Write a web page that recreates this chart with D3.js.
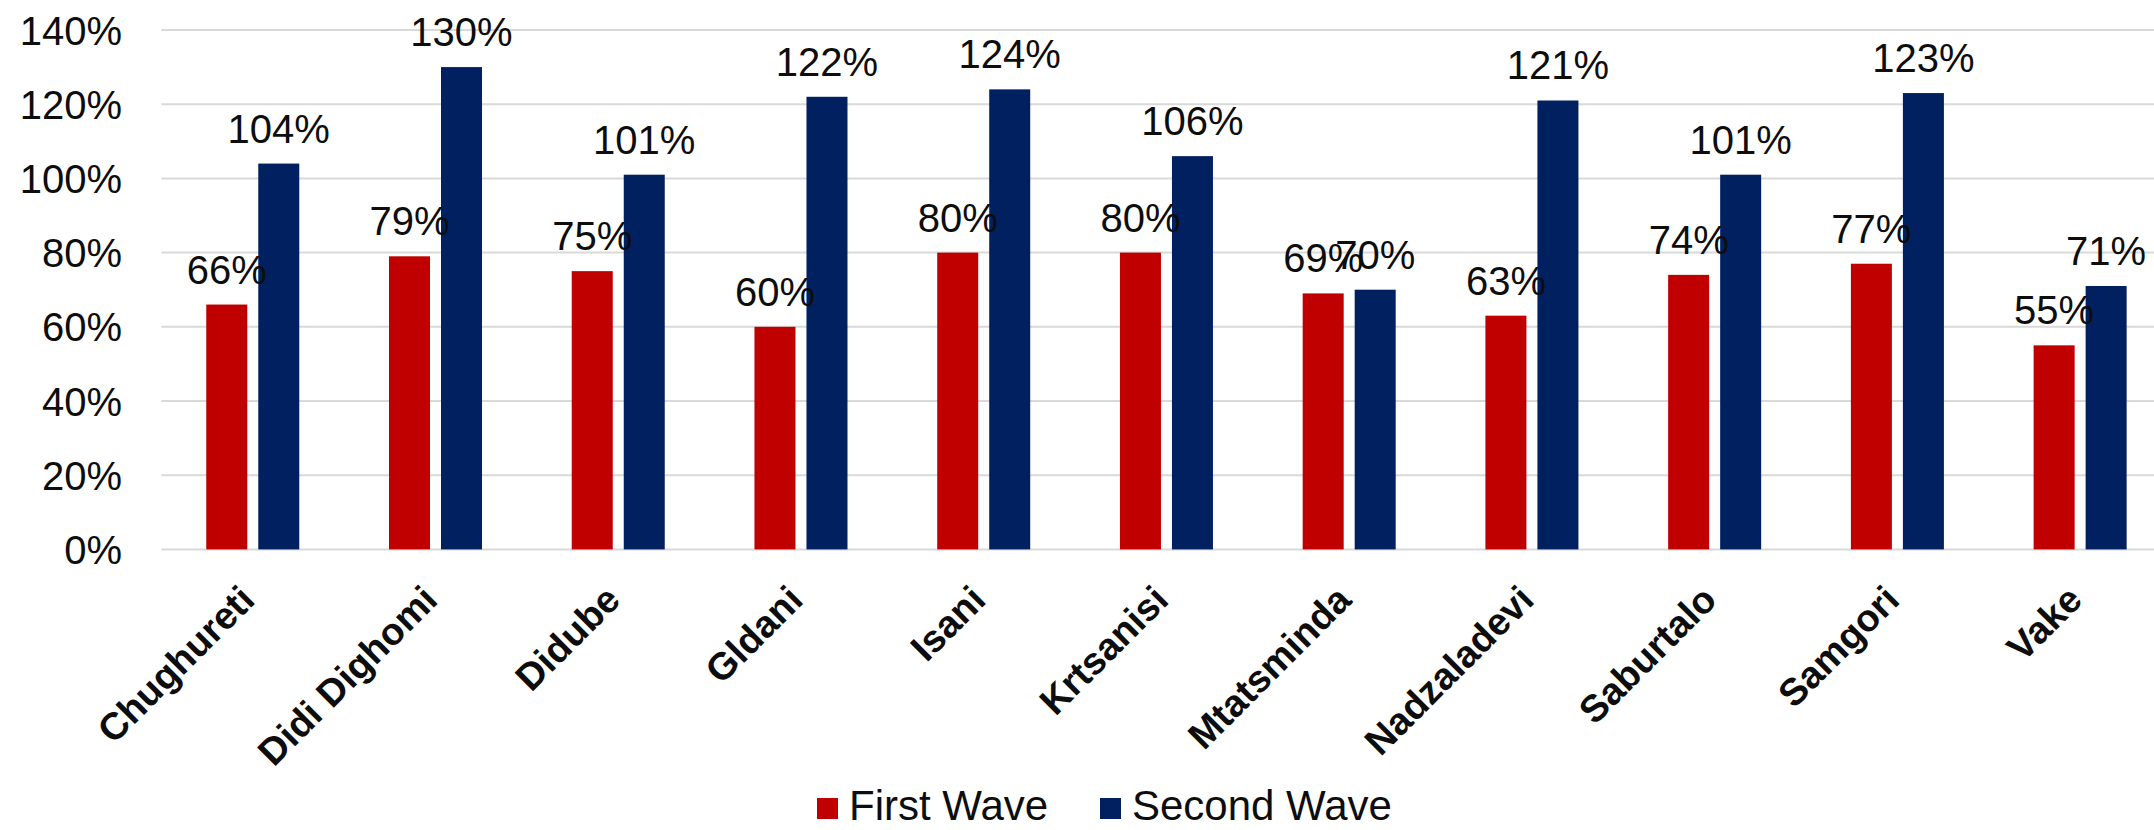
<!DOCTYPE html>
<html>
<head>
<meta charset="utf-8">
<script src="https://cdn.jsdelivr.net/npm/d3@7"></script>
<style>
  html, body { margin: 0; padding: 0; background: #fff; }
  svg { display: block; font-family: "Liberation Sans", Arial, sans-serif; }
</style>
</head>
<body>
<svg id="chart" width="2154" height="830"></svg>
<script>
// Districts of Tbilisi
const districts = ["Chughureti", "Didi Dighomi", "Didube", "Gldani", "Isani", "Krtsanisi",
                   "Mtatsminda", "Nadzaladevi", "Saburtalo", "Samgori", "Vake"];
const seriesNames = ["First Wave", "Second Wave"];
const firstWave  = [0.66, 0.79, 0.75, 0.60, 0.80, 0.80, 0.69, 0.63, 0.74, 0.77, 0.55];
const secondWave = [1.04, 1.30, 1.01, 1.22, 1.24, 1.06, 0.70, 1.21, 1.01, 1.23, 0.71];
const yTicks = [0, 0.2, 0.4, 0.6, 0.8, 1.0, 1.2, 1.4];

const colors = { "First Wave": "#C00000", "Second Wave": "#002060" };
const textColor = "#0d0d0d";

const svg = d3.select("#chart");
const plot = { left: 161.4, right: 2171.5, top: 30, bottom: 549.4 };

const x = d3.scaleBand()
  .domain(districts)
  .range([plot.left, plot.right])
  .paddingInner(0.491)
  .paddingOuter(0.2455);

const xInner = d3.scaleBand()
  .domain(seriesNames)
  .range([0, x.bandwidth()])
  .paddingInner(0.2115)
  .paddingOuter(0);

const y = d3.scaleLinear().domain([0, 1.4]).range([plot.bottom, plot.top]);

// horizontal gridlines
svg.append("g")
  .selectAll("line")
  .data(yTicks)
  .join("line")
  .attr("x1", plot.left)
  .attr("x2", plot.right)
  .attr("y1", d => y(d))
  .attr("y2", d => y(d))
  .attr("stroke", "#d9d9d9")
  .attr("stroke-width", 2);

// y axis labels
const yAxis = d3.axisLeft(y).tickValues(yTicks).tickFormat(d3.format(".0%")).tickSize(0).tickPadding(0);
const yg = svg.append("g").attr("transform", `translate(${122},0)`).call(yAxis);
yg.select(".domain").remove();
yg.selectAll("text")
  .attr("font-family", "Liberation Sans, Arial, sans-serif")
  .attr("font-size", 40)
  .attr("fill", textColor)
  .attr("dy", "0.35em");

// bars
const rows = districts.map((d, i) => ({
  district: d,
  values: [
    { series: "First Wave", value: firstWave[i] },
    { series: "Second Wave", value: secondWave[i] }
  ]
}));

const groups = svg.append("g")
  .selectAll("g")
  .data(rows)
  .join("g")
  .attr("transform", d => `translate(${x(d.district)},0)`);

groups.selectAll("rect")
  .data(d => d.values)
  .join("rect")
  .attr("x", d => xInner(d.series))
  .attr("width", xInner.bandwidth())
  .attr("y", d => y(d.value))
  .attr("height", d => y(0) - y(d.value))
  .attr("fill", d => colors[d.series]);

// value labels above each bar
groups.selectAll("text")
  .data(d => d.values)
  .join("text")
  .attr("x", d => xInner(d.series) + xInner.bandwidth() / 2)
  .attr("y", d => y(d.value) - 21)
  .attr("text-anchor", "middle")
  .attr("font-size", 40)
  .attr("fill", textColor)
  .text(d => d3.format(".0%")(d.value));

// category labels, rotated
svg.append("g")
  .selectAll("text")
  .data(districts)
  .join("text")
  .attr("transform", d => `translate(${x(d) + x.bandwidth() / 2 + 4},${602}) rotate(-45)`)
  .attr("text-anchor", "end")
  .attr("font-size", 38)
  .attr("font-weight", "bold")
  .attr("fill", textColor)
  .text(d => d);

// legend
const legendItems = [
  { name: "First Wave", x: 817 },
  { name: "Second Wave", x: 1100 }
];
const legend = svg.append("g")
  .selectAll("g")
  .data(legendItems)
  .join("g")
  .attr("transform", d => `translate(${d.x},0)`);
legend.append("rect")
  .attr("x", 0).attr("y", 798)
  .attr("width", 21).attr("height", 21)
  .attr("fill", d => colors[d.name]);
legend.append("text")
  .attr("x", 32).attr("y", 820)
  .attr("font-size", 42)
  .attr("fill", textColor)
  .text(d => d.name);
</script>
</body>
</html>
